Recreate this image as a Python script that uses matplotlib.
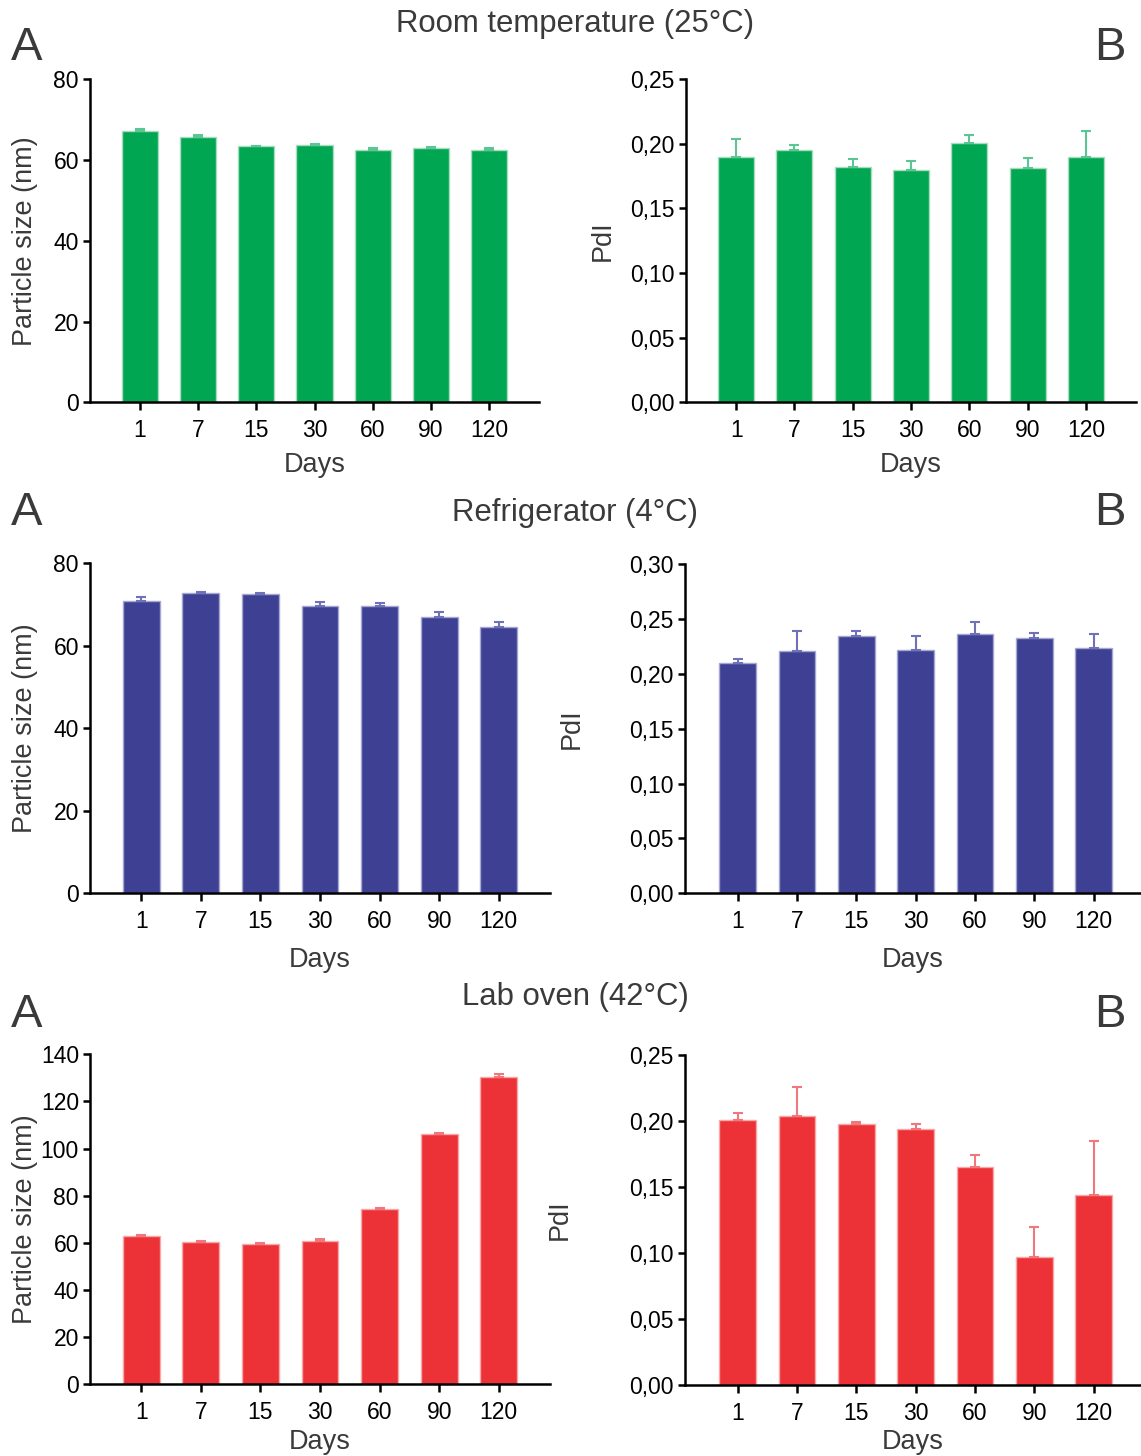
import matplotlib
matplotlib.use("Agg")
import matplotlib.pyplot as plt
import numpy as np

plt.rcParams['font.family'] = ['Liberation Sans', 'DejaVu Sans']

# ---------------- data ----------------
days = ["1", "7", "15", "30", "60", "90", "120"]

rt_size = [67.2, 65.8, 63.4, 63.8, 62.5, 62.9, 62.4]
rt_size_err = [0.4, 0.5, 0.2, 0.2, 0.5, 0.4, 0.7]
rt_pdi = [0.190, 0.195, 0.182, 0.180, 0.201, 0.181, 0.190]
rt_pdi_err = [0.014, 0.004, 0.006, 0.007, 0.006, 0.008, 0.020]

fr_size = [70.9, 72.7, 72.6, 69.7, 69.7, 67.0, 64.6]
fr_size_err = [1.0, 0.4, 0.3, 0.8, 0.6, 1.1, 1.2]
fr_pdi = [0.210, 0.221, 0.235, 0.222, 0.236, 0.233, 0.224]
fr_pdi_err = [0.004, 0.018, 0.004, 0.013, 0.011, 0.004, 0.012]

ov_size = [63.0, 60.3, 59.6, 60.8, 74.3, 106.2, 130.2]
ov_size_err = [0.2, 0.6, 0.5, 0.7, 0.6, 0.4, 1.5]
ov_pdi = [0.201, 0.204, 0.198, 0.194, 0.165, 0.097, 0.144]
ov_pdi_err = [0.005, 0.022, 0.001, 0.004, 0.009, 0.023, 0.041]

titles = ["Room temperature (25°C)", "Refrigerator (4°C)", "Lab oven (42°C)"]
size_ticks = [[0, 20, 40, 60, 80], [0, 20, 40, 60, 80], [0, 20, 40, 60, 80, 100, 120, 140]]
pdi_ticks = [[0.00, 0.05, 0.10, 0.15, 0.20, 0.25],
             [0.00, 0.05, 0.10, 0.15, 0.20, 0.25, 0.30],
             [0.00, 0.05, 0.10, 0.15, 0.20, 0.25]]
pdi_ticklabels = [["0,00", "0,05", "0,10", "0,15", "0,20", "0,25"],
                  ["0,00", "0,05", "0,10", "0,15", "0,20", "0,25", "0,30"],
                  ["0,00", "0,05", "0,10", "0,15", "0,20", "0,25"]]

# ---------------- style ----------------
W, H = 1141, 1456
fig = plt.figure(figsize=(W / 100, H / 100), dpi=100)
TXT = '#3a3a3a'
colors = ['#00A651', '#3D4093', '#ED3237']
edge_colors = ['#a9dcbf', '#a5a7d0', '#f5a9ab']
err_colors = ['#5cc593', '#6f72b8', '#f0777b']


def add_axes(x0, x1, y0, y1):
    return fig.add_axes([x0 / W, 1 - y1 / H, (x1 - x0) / W, (y1 - y0) / H])


def style(ax, yticks, xlim, yticklabels=None):
    for s in ['top', 'right']:
        ax.spines[s].set_visible(False)
    for s in ['left', 'bottom']:
        ax.spines[s].set_linewidth(1.8)
        ax.spines[s].set_color('black')
    ax.set_xlim(*xlim)
    ax.set_ylim(yticks[0], yticks[-1])
    ax.set_yticks(yticks)
    if yticklabels is not None:
        ax.set_yticklabels(yticklabels)
    ax.set_xticks(np.arange(len(days)))
    ax.set_xticklabels(days)
    ax.tick_params(axis='both', direction='out', width=1.8, labelsize=16.5,
                   colors='black')
    ax.tick_params(axis='y', length=5, pad=3)
    ax.tick_params(axis='x', length=6, pad=6)


def bars(ax, vals, errs, i):
    x = np.arange(len(days))
    ax.bar(x, vals, width=0.62, color=colors[i], edgecolor=edge_colors[i],
           linewidth=1.0, zorder=2)
    ax.errorbar(x, vals, yerr=[np.zeros(len(errs)), errs], fmt='none',
                ecolor=err_colors[i], elinewidth=1.5, capsize=3.6,
                capthick=1.5, zorder=3)


size_data = [(rt_size, rt_size_err), (fr_size, fr_size_err), (ov_size, ov_size_err)]
pdi_data = [(rt_pdi, rt_pdi_err), (fr_pdi, fr_pdi_err), (ov_pdi, ov_pdi_err)]

# pixel geometry of each row
left_geo = [(90, 539, 79.3, 402.3), (90, 550, 563.3, 893.3), (90, 550, 1054.3, 1384.3)]
right_geo = [(686, 1136, 79.3, 402.3), (685, 1141, 564.3, 893.3), (685, 1141, 1055, 1385)]
left_xlim = [(-0.86, 6.86)] * 3
right_xlim = [(-0.86, 6.86), (-0.89, 6.80), (-0.89, 6.80)]
title_y = [24, 513, 997]
ab_y = [48, 513, 1015]
pdi_label_x = [603, 572, 560]
size_label_x = [25, 25, 25]
days_y_left = [465, 960, 1442]
days_y_right = [465, 960, 1442]

for r in range(3):
    # left panel: particle size
    g = left_geo[r]
    ax = add_axes(*g)
    bars(ax, size_data[r][0], size_data[r][1], r)
    style(ax, size_ticks[r], left_xlim[r])
    ax.set_ylabel("Particle size (nm)", fontsize=19.5, color=TXT)
    ax.yaxis.set_label_coords((size_label_x[r] - g[0]) / (g[1] - g[0]), 0.5)
    ax.yaxis.label.set_va('center')
    ax.set_xlabel("Days", fontsize=19.5, color=TXT)
    ax.xaxis.set_label_coords(0.5, (g[3] - days_y_left[r]) / (g[3] - g[2]))
    ax.xaxis.label.set_va('center')

    # right panel: PdI
    g = right_geo[r]
    ax = add_axes(*g)
    bars(ax, pdi_data[r][0], pdi_data[r][1], r)
    style(ax, pdi_ticks[r], right_xlim[r], pdi_ticklabels[r])
    ax.set_ylabel("PdI", fontsize=19.5, color=TXT)
    ax.yaxis.set_label_coords((pdi_label_x[r] - g[0]) / (g[1] - g[0]), 0.5)
    ax.yaxis.label.set_va('center')
    ax.set_xlabel("Days", fontsize=19.5, color=TXT)
    ax.xaxis.set_label_coords(0.5, (g[3] - days_y_right[r]) / (g[3] - g[2]))
    ax.xaxis.label.set_va('center')

    # titles and panel letters
    fig.text(575 / W, 1 - title_y[r] / H, titles[r], fontsize=22.4, color=TXT,
             ha='center', va='center')
    fig.text(27 / W, 1 - ab_y[r] / H, "A", fontsize=34, color=TXT,
             ha='center', va='center')
    fig.text(1110 / W, 1 - ab_y[r] / H, "B", fontsize=34, color=TXT,
             ha='center', va='center')

fig.savefig("out.png", dpi=100)
